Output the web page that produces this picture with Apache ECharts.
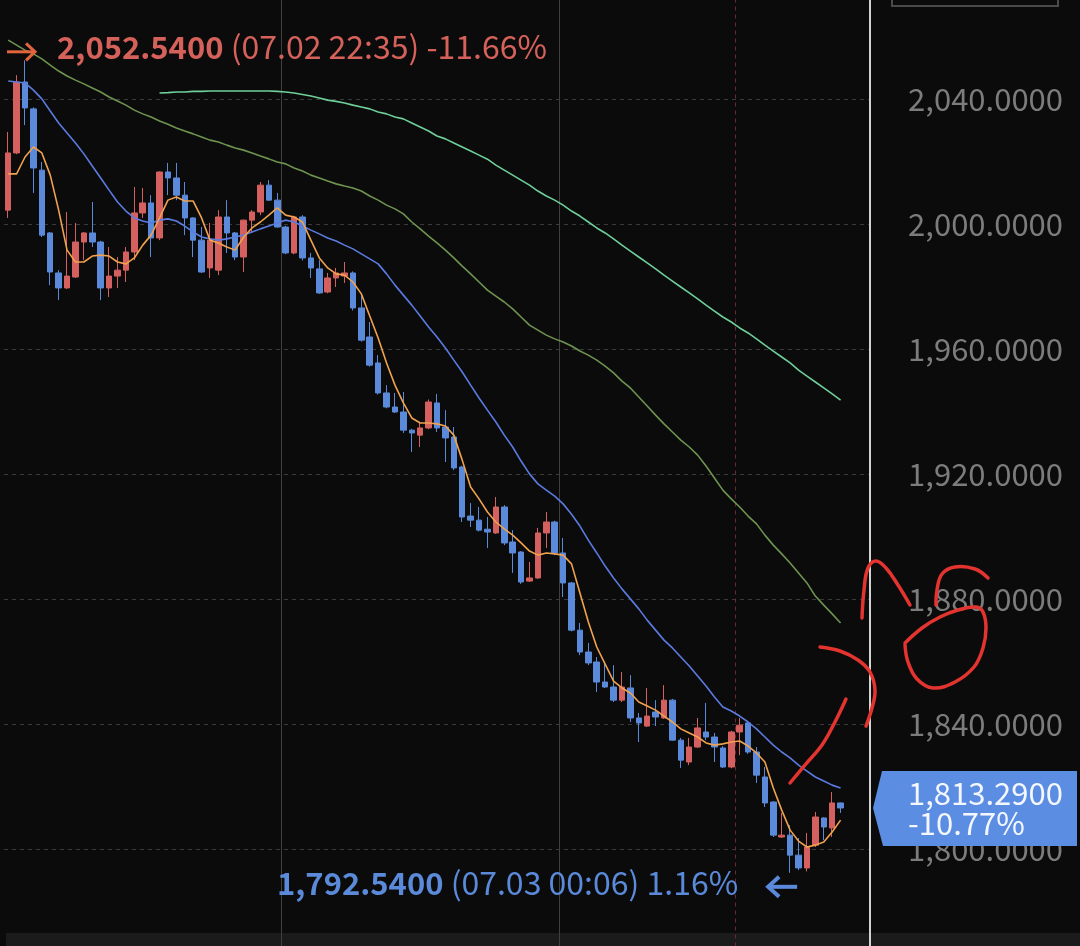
<!DOCTYPE html>
<html><head><meta charset="utf-8">
<script src="https://cdn.jsdelivr.net/npm/echarts@6/dist/echarts.min.js"></script>
<style>html,body{margin:0;padding:0;background:#0b0b0b;}#c{width:1080px;height:946px;}</style>
</head><body><div id="c"></div><script>
const times = ['22:33','22:34','22:35','22:36','22:37','22:38','22:39','22:40','22:41','22:42','22:43','22:44','22:45','22:46','22:47','22:48','22:49','22:50','22:51','22:52','22:53','22:54','22:55','22:56','22:57','22:58','22:59',
'23:00','23:01','23:02','23:03','23:04','23:05','23:06','23:07','23:08','23:09','23:10','23:11','23:12','23:13','23:14','23:15','23:16','23:17','23:18','23:19','23:20','23:21','23:22','23:23','23:24','23:25','23:26','23:27','23:28','23:29','23:30','23:31','23:32','23:33','23:34','23:35','23:36','23:37','23:38','23:39','23:40','23:41','23:42','23:43','23:44','23:45','23:46','23:47','23:48','23:49','23:50','23:51','23:52','23:53','23:54','23:55','23:56','23:57','23:58','23:59',
'00:00','00:01','00:02','00:03','00:04','00:05','00:06','00:07','00:08','00:09','00:10','00:11','00:12','00:13','00:14','00:15'];

const opens = [2004.6,2022.9,2045.6,2037.0,2017.4,1997.3,1984.5,1979.7,1983.2,1994.4,
1997.3,1994.4,1979.7,1983.5,1985.4,1991.2,2003.7,2006.9,1995.7,2016.8,
2014.9,2009.4,2002.1,1995.0,1986.1,1985.4,2002.4,1997.3,1989.6,2001.4,
2004.0,2012.6,2007.8,1999.2,1990.9,2002.4,1989.3,1985.8,1978.4,1982.9,
1983.5,1984.5,1973.3,1964.0,1955.7,1946.1,1941.6,1940.0,1934.2,1932.6,
1934.9,1942.9,1935.2,1932.0,1922.4,1906.7,1905.4,1902.5,1901.3,1909.6,
1898.4,1895.2,1885.9,1886.9,1901.3,1904.8,1894.9,1885.3,1870.2,1863.2,
1860.0,1853.6,1852.0,1847.8,1851.7,1842.1,1839.5,1844.0,1842.1,1847.8,
1835.0,1828.0,1832.8,1837.6,1836.0,1832.5,1826.4,1837.6,1840.5,1831.2,
1823.2,1815.2,1804.0,1804.6,1798.2,1794.1,1801.4,1810.1,1806.9,1814.9];

const closes = [2022.9,2045.6,2037.3,2018.1,1996.6,1984.8,1979.7,1983.5,1994.4,1997.3,
1994.4,1979.7,1983.5,1985.4,1991.2,2003.7,2006.9,1995.7,2016.8,2014.9,
2009.4,2002.1,1995.0,1984.8,1995.0,2002.4,1997.3,1989.6,2001.4,2004.0,
2012.6,2007.8,1999.2,1990.9,2002.4,1989.3,1986.1,1978.1,1982.9,1984.5,
1984.5,1973.3,1963.0,1955.0,1946.1,1941.6,1940.0,1934.2,1933.3,1934.9,
1943.2,1934.9,1931.7,1922.1,1906.4,1905.4,1902.2,1901.6,1909.6,1898.1,
1894.9,1885.6,1886.9,1901.3,1904.8,1894.9,1885.3,1870.2,1863.2,1859.7,
1853.6,1852.0,1847.8,1852.0,1842.1,1840.5,1842.7,1842.4,1847.8,1835.0,
1828.6,1832.8,1838.9,1836.0,1832.8,1826.4,1837.6,1839.8,1831.2,1823.8,
1814.9,1804.6,1804.6,1798.2,1794.1,1800.8,1810.4,1807.2,1814.9,1813.29];

const lows = [2002.1,2022.5,2031.8,2010.1,1996.0,1980.6,1975.8,1979.4,1982.9,1988.6,
1992.8,1975.8,1976.8,1979.7,1981.6,1988.6,2002.1,1989.6,1995.0,2009.4,
2007.8,1996.6,1989.6,1984.5,1982.9,1983.8,1990.9,1988.6,1984.8,1997.3,
2003.0,2007.6,1999.0,1990.5,1990.5,1988.5,1982.9,1977.8,1978.0,1980.0,
1981.3,1972.5,1962.5,1954.5,1945.6,1941.2,1939.7,1933.3,1927.2,1928.8,
1934.5,1933.6,1924.0,1921.4,1904.8,1903.2,1901.8,1896.5,1901.0,1897.4,
1888.5,1885.0,1885.6,1886.6,1896.5,1894.2,1880.8,1869.8,1862.2,1859.0,
1850.4,1851.7,1847.2,1847.2,1840.8,1834.4,1839.2,1839.5,1841.8,1834.8,
1826.1,1827.0,1832.5,1835.0,1828.0,1826.1,1826.0,1830.2,1830.6,1821.3,
1813.6,1804.0,1803.7,1792.54,1793.4,1793.0,1800.8,1803.0,1804.0,1811.7];

const highs = [2029.6,2047.8,2052.54,2037.5,2020.0,1997.6,1985.4,2004.0,2000.5,1997.6,
2007.2,1994.8,1992.8,1989.6,1992.8,2012.0,2011.7,2009.4,2017.0,2019.7,
2019.7,2013.6,2002.3,1999.2,2000.5,2004.6,2007.8,1997.6,2001.6,2004.6,
2013.6,2014.2,2010.1,1999.6,2002.8,2003.0,1990.9,1988.6,1984.5,1986.1,
1988.0,1985.0,1977.4,1968.8,1958.2,1948.6,1946.1,1946.4,1934.6,1936.8,
1944.0,1945.8,1940.6,1935.2,1922.8,1910.9,1909.6,1906.4,1912.8,1910.2,
1902.2,1895.5,1892.0,1902.9,1908.0,1905.2,1899.7,1885.6,1872.5,1866.1,
1861.6,1860.0,1859.0,1856.8,1855.8,1843.7,1851.7,1847.8,1852.6,1848.2,
1835.7,1835.7,1842.1,1846.9,1837.3,1833.1,1838.0,1842.1,1841.1,1832.8,
1826.4,1815.5,1811.7,1807.8,1803.7,1805.3,1812.0,1810.3,1818.4,1815.0];

const ma5 = [2016.2,2016.2,2021.6,2024.8,2022.9,2015.8,2004.6,1991.8,1988.0,1988.0,
1989.9,1990.2,1989.9,1988.0,1987.4,1989.3,1993.4,1996.6,2002.1,2007.8,
2008.8,2007.5,2007.5,2002.1,1995.0,1994.1,1992.8,1991.8,1996.0,1998.9,
2000.8,2003.0,2005.3,2003.0,2002.4,2000.8,1995.0,1989.3,1986.1,1984.2,
1983.8,1981.6,1977.8,1970.7,1963.7,1955.7,1948.6,1942.9,1938.1,1936.5,
1936.5,1936.2,1935.5,1932.6,1924.6,1916.0,1912.2,1908.0,1904.8,1902.6,
1900.6,1898.1,1895.5,1894.2,1894.9,1894.6,1894.2,1891.4,1882.1,1872.8,
1864.8,1859.3,1853.9,1851.7,1850.1,1847.2,1845.9,1844.6,1842.7,1840.8,
1838.6,1837.3,1836.0,1834.1,1833.4,1833.8,1834.4,1834.7,1833.1,1830.9,
1828.0,1819.7,1812.6,1806.2,1802.7,1800.8,1801.4,1802.4,1805.6,1809.4];

const ma20 = [2045.9,2045.6,2045.3,2043.0,2040.2,2036.3,2032.5,2029.3,2026.1,2022.6,
2018.7,2014.9,2011.0,2007.2,2004.3,2002.1,2001.1,2000.5,2001.4,2001.8,
2001.1,1999.5,1997.6,1996.0,1995.4,1995.0,1995.4,1996.0,1996.6,1997.6,
1998.6,1999.5,2000.5,2001.4,2000.8,1999.5,1998.2,1997.0,1995.7,1994.7,
1993.4,1992.2,1990.6,1989.0,1987.4,1984.2,1980.6,1977.4,1974.2,1970.7,
1967.2,1964.0,1960.5,1956.6,1952.8,1948.6,1944.5,1940.6,1936.8,1932.6,
1928.8,1924.3,1920.2,1917.0,1915.0,1913.1,1910.6,1907.3,1903.5,1899.0,
1894.9,1890.7,1886.9,1883.4,1880.2,1877.0,1873.4,1870.2,1867.0,1864.5,
1861.6,1858.7,1855.5,1852.3,1848.8,1845.6,1844.3,1842.7,1840.8,1838.6,
1836.0,1833.4,1831.2,1829.3,1827.0,1825.1,1823.2,1821.9,1820.6,1819.7];

const ma60 = [2059.0,2057.4,2055.8,2054.6,2053.0,2051.0,2049.1,2047.5,2046.2,2045.0,
2043.7,2042.4,2040.8,2039.5,2038.2,2036.6,2035.4,2034.4,2033.1,2032.1,
2030.9,2029.9,2029.0,2028.0,2027.0,2026.4,2025.4,2024.5,2023.8,2022.9,
2021.9,2021.0,2020.0,2019.4,2018.1,2017.1,2015.8,2014.9,2013.9,2013.0,
2012.3,2011.7,2010.7,2009.1,2007.8,2006.2,2005.0,2003.4,2000.8,1998.6,
1996.3,1994.1,1991.8,1989.3,1986.7,1984.2,1981.6,1979.0,1977.1,1975.2,
1973.0,1970.4,1967.8,1966.2,1964.6,1963.4,1962.4,1961.1,1959.5,1958.2,
1956.6,1954.7,1952.5,1949.9,1947.7,1944.8,1941.9,1939.0,1936.2,1933.6,
1931.0,1928.8,1926.2,1922.7,1918.9,1915.0,1912.2,1909.6,1906.7,1904.2,
1900.6,1897.4,1894.6,1891.7,1888.5,1885.3,1881.1,1878.2,1875.4,1872.5];

const ma120 = ['-','-','-','-','-','-','-','-','-','-',
'-','-','-','-','-','-','-','-',2042.1,2042.2,
2042.4,2042.4,2042.6,2042.6,2042.7,2042.7,2042.7,2042.7,2042.7,2042.7,
2042.7,2042.7,2042.6,2042.4,2042.1,2041.6,2041.1,2040.5,2039.8,2039.4,
2038.9,2038.2,2037.6,2037.0,2036.0,2035.4,2034.4,2033.8,2032.5,2031.2,
2029.9,2028.3,2027.4,2026.1,2024.8,2023.5,2022.2,2020.9,2019.0,2017.4,
2015.8,2014.2,2012.6,2010.7,2009.1,2007.8,2006.2,2004.3,2002.7,2000.8,
1998.9,1997.3,1995.4,1993.4,1991.5,1989.6,1987.7,1985.8,1983.8,1981.9,
1980.0,1978.1,1976.2,1974.2,1972.3,1970.4,1968.8,1966.9,1965.3,1963.4,
1961.4,1959.5,1957.6,1955.7,1953.4,1951.5,1949.6,1947.7,1945.8,1943.8];

const yRange = [1760, 2080];
const yStep = 40;
const gridBoundaries = [33, 66];
const dayBoundary = [87];
const highInfo = ['2,052.5400', '(07.02 22:35)', '-11.66%'];
const lowInfo = ['1,792.5400', '(07.03 00:06)', '1.16%'];
const lastInfo = ['1,813.2900', '-10.77%'];

const FONT = '"Noto Sans CJK KR","Noto Sans",sans-serif';
const UP = '#d4605f', DOWN = '#5a8ad9';

const candleData = opens.map((o, i) => [o, closes[i], lows[i], highs[i]]);

// vertical separator drawn at the left boundary of a category band
function boundaryLine(color, dash) {
  return function (params, api) {
    const c = api.coord([api.value(0), yRange[0]]);
    const band = api.size([1, 0])[0];
    const x = Math.round(c[0] - band / 2) + 0.5;
    const cs = params.coordSys;
    return { type: 'line', silent: true,
      shape: { x1: x, y1: cs.y, x2: x, y2: cs.y + cs.height },
      style: { stroke: color, lineWidth: 1, lineDash: dash } };
  };
}

const chart = echarts.init(document.getElementById('c'));
chart.setOption({
  backgroundColor: '#0b0b0b',
  animation: false,
  grid: { left: 4, right: 210, top: -25.5, height: 1000, outerBoundsMode: 'none', containLabel: false },
  xAxis: { type: 'category', data: times, boundaryGap: true,
    axisLine: { show: false }, axisTick: { show: false }, axisLabel: { show: false }, splitLine: { show: false } },
  yAxis: {
    type: 'value', position: 'right', min: yRange[0], max: yRange[1], interval: yStep,
    axisLine: { show: true, lineStyle: { color: '#d2d2d2', width: 2 } },
    axisTick: { show: false },
    splitLine: { show: true, lineStyle: { color: '#3a3a3a', width: 1, type: [4, 4] } },
    axisLabel: { color: '#7c7c7c', fontSize: 31, fontFamily: FONT, align: 'right', margin: 193,
      formatter: v => v.toLocaleString('en-US', { minimumFractionDigits: 4, maximumFractionDigits: 4 }) }
  },
  series: [
    { type: 'custom', data: gridBoundaries.map(i => [i]), encode: { x: 0 }, z: 1, silent: true,
      renderItem: boundaryLine('#404040', null) },
    { type: 'custom', data: dayBoundary.map(i => [i]), encode: { x: 0 }, z: 1, silent: true,
      renderItem: boundaryLine('#6a2b2b', [4, 4]) },
    { type: 'candlestick', data: candleData, barWidth: 6, z: 2,
      itemStyle: { color: UP, color0: DOWN, borderColor: UP, borderColor0: DOWN, borderWidth: 1 } },
    { type: 'line', data: ma120, symbol: 'none', lineStyle: { color: '#6fcf9a', width: 1.6 }, z: 3 },
    { type: 'line', data: ma60, symbol: 'none', lineStyle: { color: '#6e9450', width: 1.6 }, z: 3 },
    { type: 'line', data: ma20, symbol: 'none', lineStyle: { color: '#5b7be0', width: 1.6 }, z: 3 },
    { type: 'line', data: ma5, symbol: 'none', lineStyle: { color: '#f0a24f', width: 1.6 }, z: 3 }
  ]
});

const hi = highs.indexOf(Math.max(...highs));
const lo = lows.indexOf(Math.min(...lows));
const hp = chart.convertToPixel({ seriesIndex: 2 }, [hi, highs[hi]]);
const lp = chart.convertToPixel({ seriesIndex: 2 }, [lo, lows[lo]]);
const ty = chart.convertToPixel({ yAxisIndex: 0 }, closes[closes.length - 1]);

const RED = '#e3342f';
const stroke = (pts) => ({ type: 'polyline', shape: { points: pts, smooth: 0.4 }, style: { stroke: RED, lineWidth: 3.5, lineCap: 'round', lineJoin: 'round', fill: null }, z: 50 });

chart.setOption({
  graphic: [
    { type: 'rect', z: -1, shape: { x: 6, y: 933, width: 1074, height: 13 }, style: { fill: '#1b1b1b' } },
    { type: 'rect', shape: { x: 892, y: -20, width: 166, height: 26 }, style: { fill: 'none', stroke: '#4a4a4a', lineWidth: 2 } },
    // high marker
    { type: 'polyline', shape: { points: [[hp[0] - 18, hp[1] - 8.5], [hp[0] + 10, hp[1] - 8.5]] }, style: { stroke: '#e0643e', lineWidth: 3 }, z: 20 },
    { type: 'polyline', shape: { points: [[hp[0] + 1, hp[1] - 17], [hp[0] + 10, hp[1] - 8.5], [hp[0] + 1, hp[1]]] }, style: { stroke: '#e0643e', lineWidth: 3, fill: null }, z: 20 },
    { type: 'text', x: hp[0] + 32, y: hp[1] - 13, z: 20, style: {
      text: '{b|' + highInfo[0] + '}{r| ' + highInfo[1] + ' ' + highInfo[2] + '}',
      verticalAlign: 'middle', align: 'left',
      rich: { b: { fontWeight: 'bold', fontSize: 31, fontFamily: FONT, fill: '#d5615b' },
              r: { fontSize: 32, fontFamily: FONT, fill: '#d5615b' } } } },
    // low marker
    { type: 'polyline', shape: { points: [[lp[0] - 22, lp[1] + 14], [lp[0] + 7, lp[1] + 14]] }, style: { stroke: '#5a8ad9', lineWidth: 4 }, z: 20 },
    { type: 'polyline', shape: { points: [[lp[0] - 11, lp[1] + 4], [lp[0] - 22, lp[1] + 14], [lp[0] - 11, lp[1] + 24]] }, style: { stroke: '#5a8ad9', lineWidth: 4, fill: null }, z: 20 },
    { type: 'text', x: lp[0] - 52, y: lp[1] + 10, z: 20, style: {
      text: '{b|' + lowInfo[0] + '}{r| ' + lowInfo[1] + ' ' + lowInfo[2] + '}',
      verticalAlign: 'middle', align: 'right',
      rich: { b: { fontWeight: 'bold', fontSize: 31, fontFamily: FONT, fill: '#5a8ad9' },
              r: { fontSize: 32, fontFamily: FONT, fill: '#5a8ad9' } } } },
    // price tag
    { type: 'polygon', z: 30, shape: { points: [[873, ty], [882, ty - 37], [1077, ty - 37], [1077, ty + 38], [883, ty + 38]] }, style: { fill: '#5b8de2' } },
    { type: 'text', z: 31, x: 908, y: ty - 15, style: { text: lastInfo[0], fill: '#f4f7ff', fontSize: 31, fontFamily: FONT, verticalAlign: 'middle' } },
    { type: 'text', z: 31, x: 908, y: ty + 15, style: { text: lastInfo[1], fill: '#f4f7ff', fontSize: 31, fontFamily: FONT, verticalAlign: 'middle' } },
    // hand-drawn annotations
    stroke([[862, 618], [864, 590], [868, 568], [876, 561], [886, 568], [898, 585], [910, 605]]),
    stroke([[988, 578], [975, 569], [955, 567], [942, 574], [937, 590], [936, 605]]),
    stroke([[905, 643], [922, 628], [940, 617], [958, 610], [976, 607], [983, 612], [986, 628], [983, 648], [974, 667], [955, 682], [933, 688], [917, 679], [908, 662], [905, 645]]),
    stroke([[820, 647], [840, 651], [858, 660], [870, 672], [875, 690], [872, 708], [866, 726]]),
    stroke([[790, 783], [805, 765], [822, 745], [835, 722], [846, 699]])
  ]
});
</script></body></html>
